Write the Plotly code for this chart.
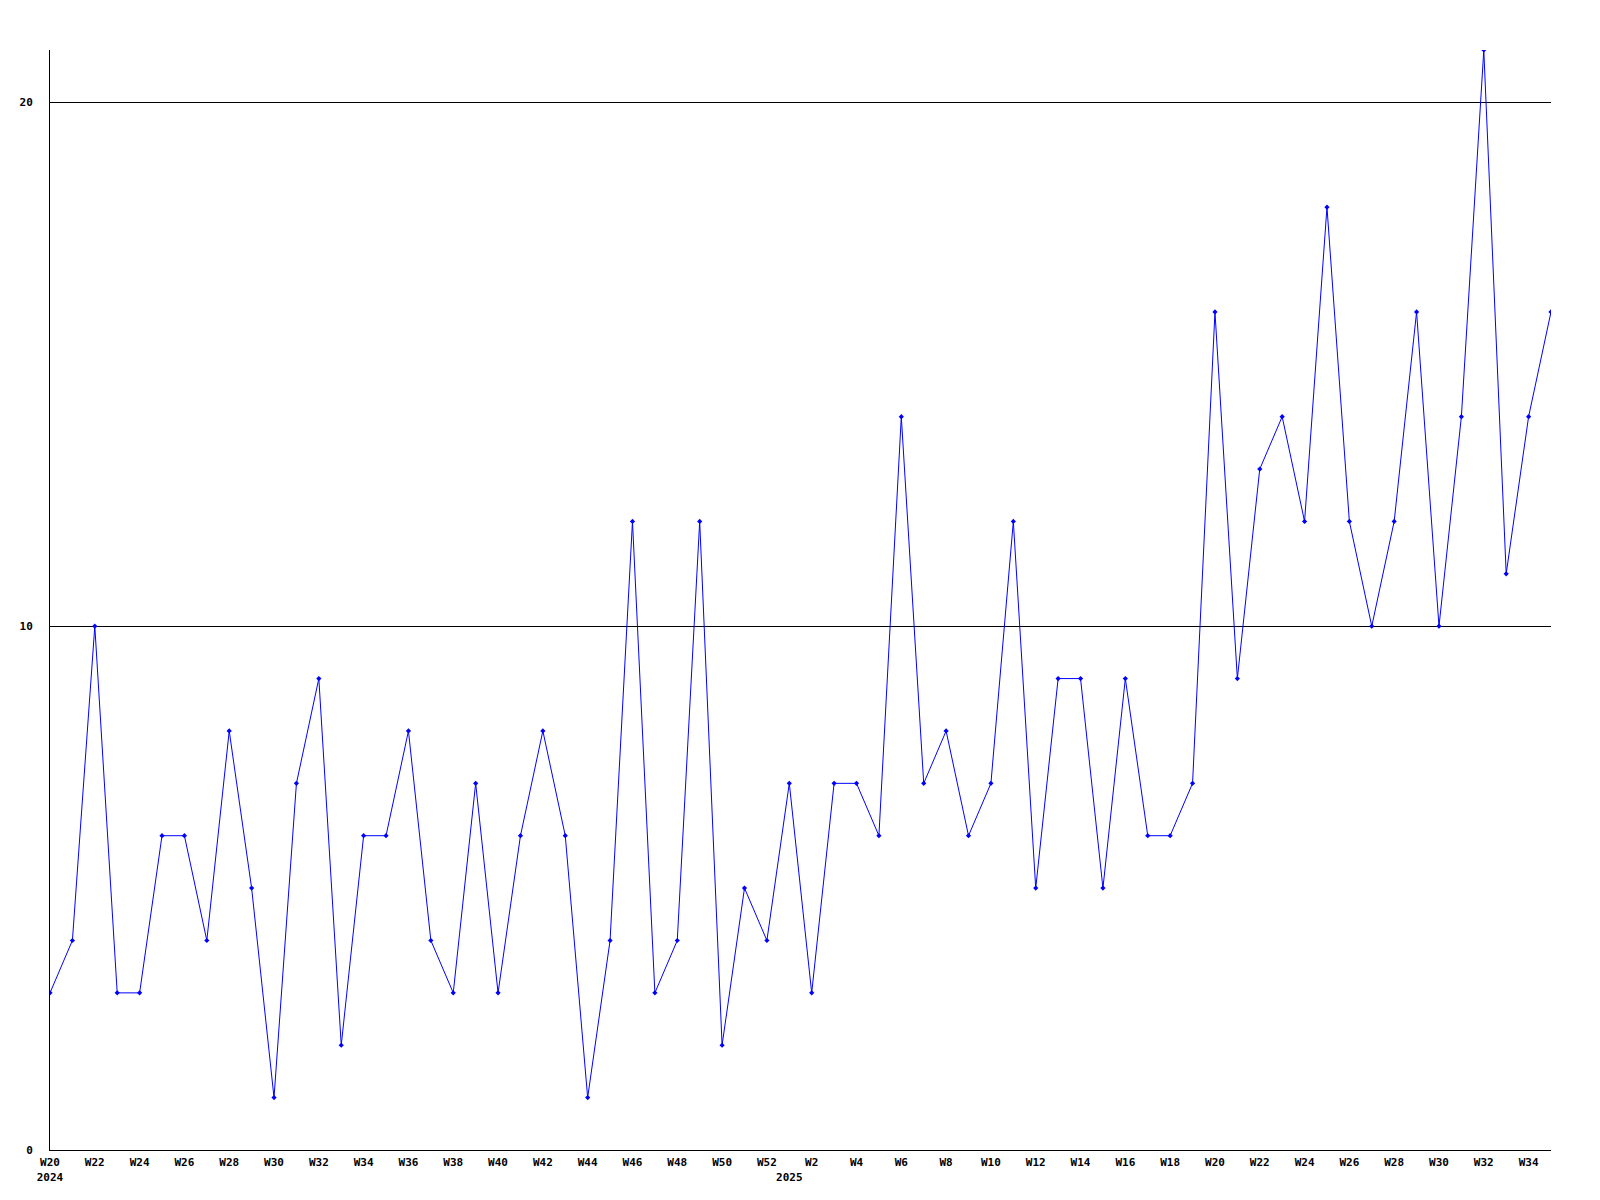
import plotly.graph_objects as go

weeks = (["W%d" % w for w in range(20, 53)] + ["W%d" % w for w in range(1, 36)])
values = [3, 4, 10, 3, 3, 6, 6, 4, 8, 5, 1, 7, 9, 2, 6, 6, 8, 4, 3, 7, 3, 6, 8, 6, 1, 4, 12, 3, 4, 12,
          2, 5, 4, 7, 3, 7, 7, 6, 14, 7, 8, 6, 7, 12, 5, 9, 9, 5, 9, 6, 6, 7, 16, 9, 13, 14, 12, 18,
          12, 10, 12, 16, 10, 14, 21, 11, 14, 16]
year_labels = {0: "2024", 33: "2025"}
y_ticks = [0, 10, 20]

x = list(range(len(weeks)))

tickvals = []
ticktext = []
for i, w in enumerate(weeks):
    num = int(w[1:])
    lab = w if num % 2 == 0 else None
    yr = year_labels.get(i)
    if lab is None and yr is None:
        continue
    tickvals.append(i)
    ticktext.append((lab or "") + ("<br>" + yr if yr else ""))

fig = go.Figure()
fig.add_trace(go.Scatter(
    x=x, y=values, mode="lines+markers",
    line=dict(color="#0000ff", width=1),
    marker=dict(color="#0000ff", size=4, symbol="diamond"),
    cliponaxis=True,
))

font = dict(family="DejaVu Sans Mono", size=11, color="black", weight="bold")
fig.update_layout(
    width=1592, height=1192,
    margin=dict(l=42, r=49, t=42, b=50, autoexpand=False),
    plot_bgcolor="white", paper_bgcolor="white",
    showlegend=False,
    font=font,
)
fig.update_xaxes(
    range=[0, len(weeks) - 1], tickvals=tickvals, ticktext=ticktext,
    showgrid=False, zeroline=False, showline=True, linecolor="black", linewidth=1,
    ticks="", tickfont=font, tickangle=0, ticklabelstandoff=2, automargin=False,
)
fig.update_yaxes(
    range=[0, 21], tickvals=y_ticks, ticktext=[str(v) for v in y_ticks],
    showgrid=True, gridcolor="black", gridwidth=1, zeroline=False,
    showline=True, linecolor="black", linewidth=1, ticks="", tickfont=font,
    ticklabelstandoff=14, automargin=False,
)
fig.write_html("out.html")
